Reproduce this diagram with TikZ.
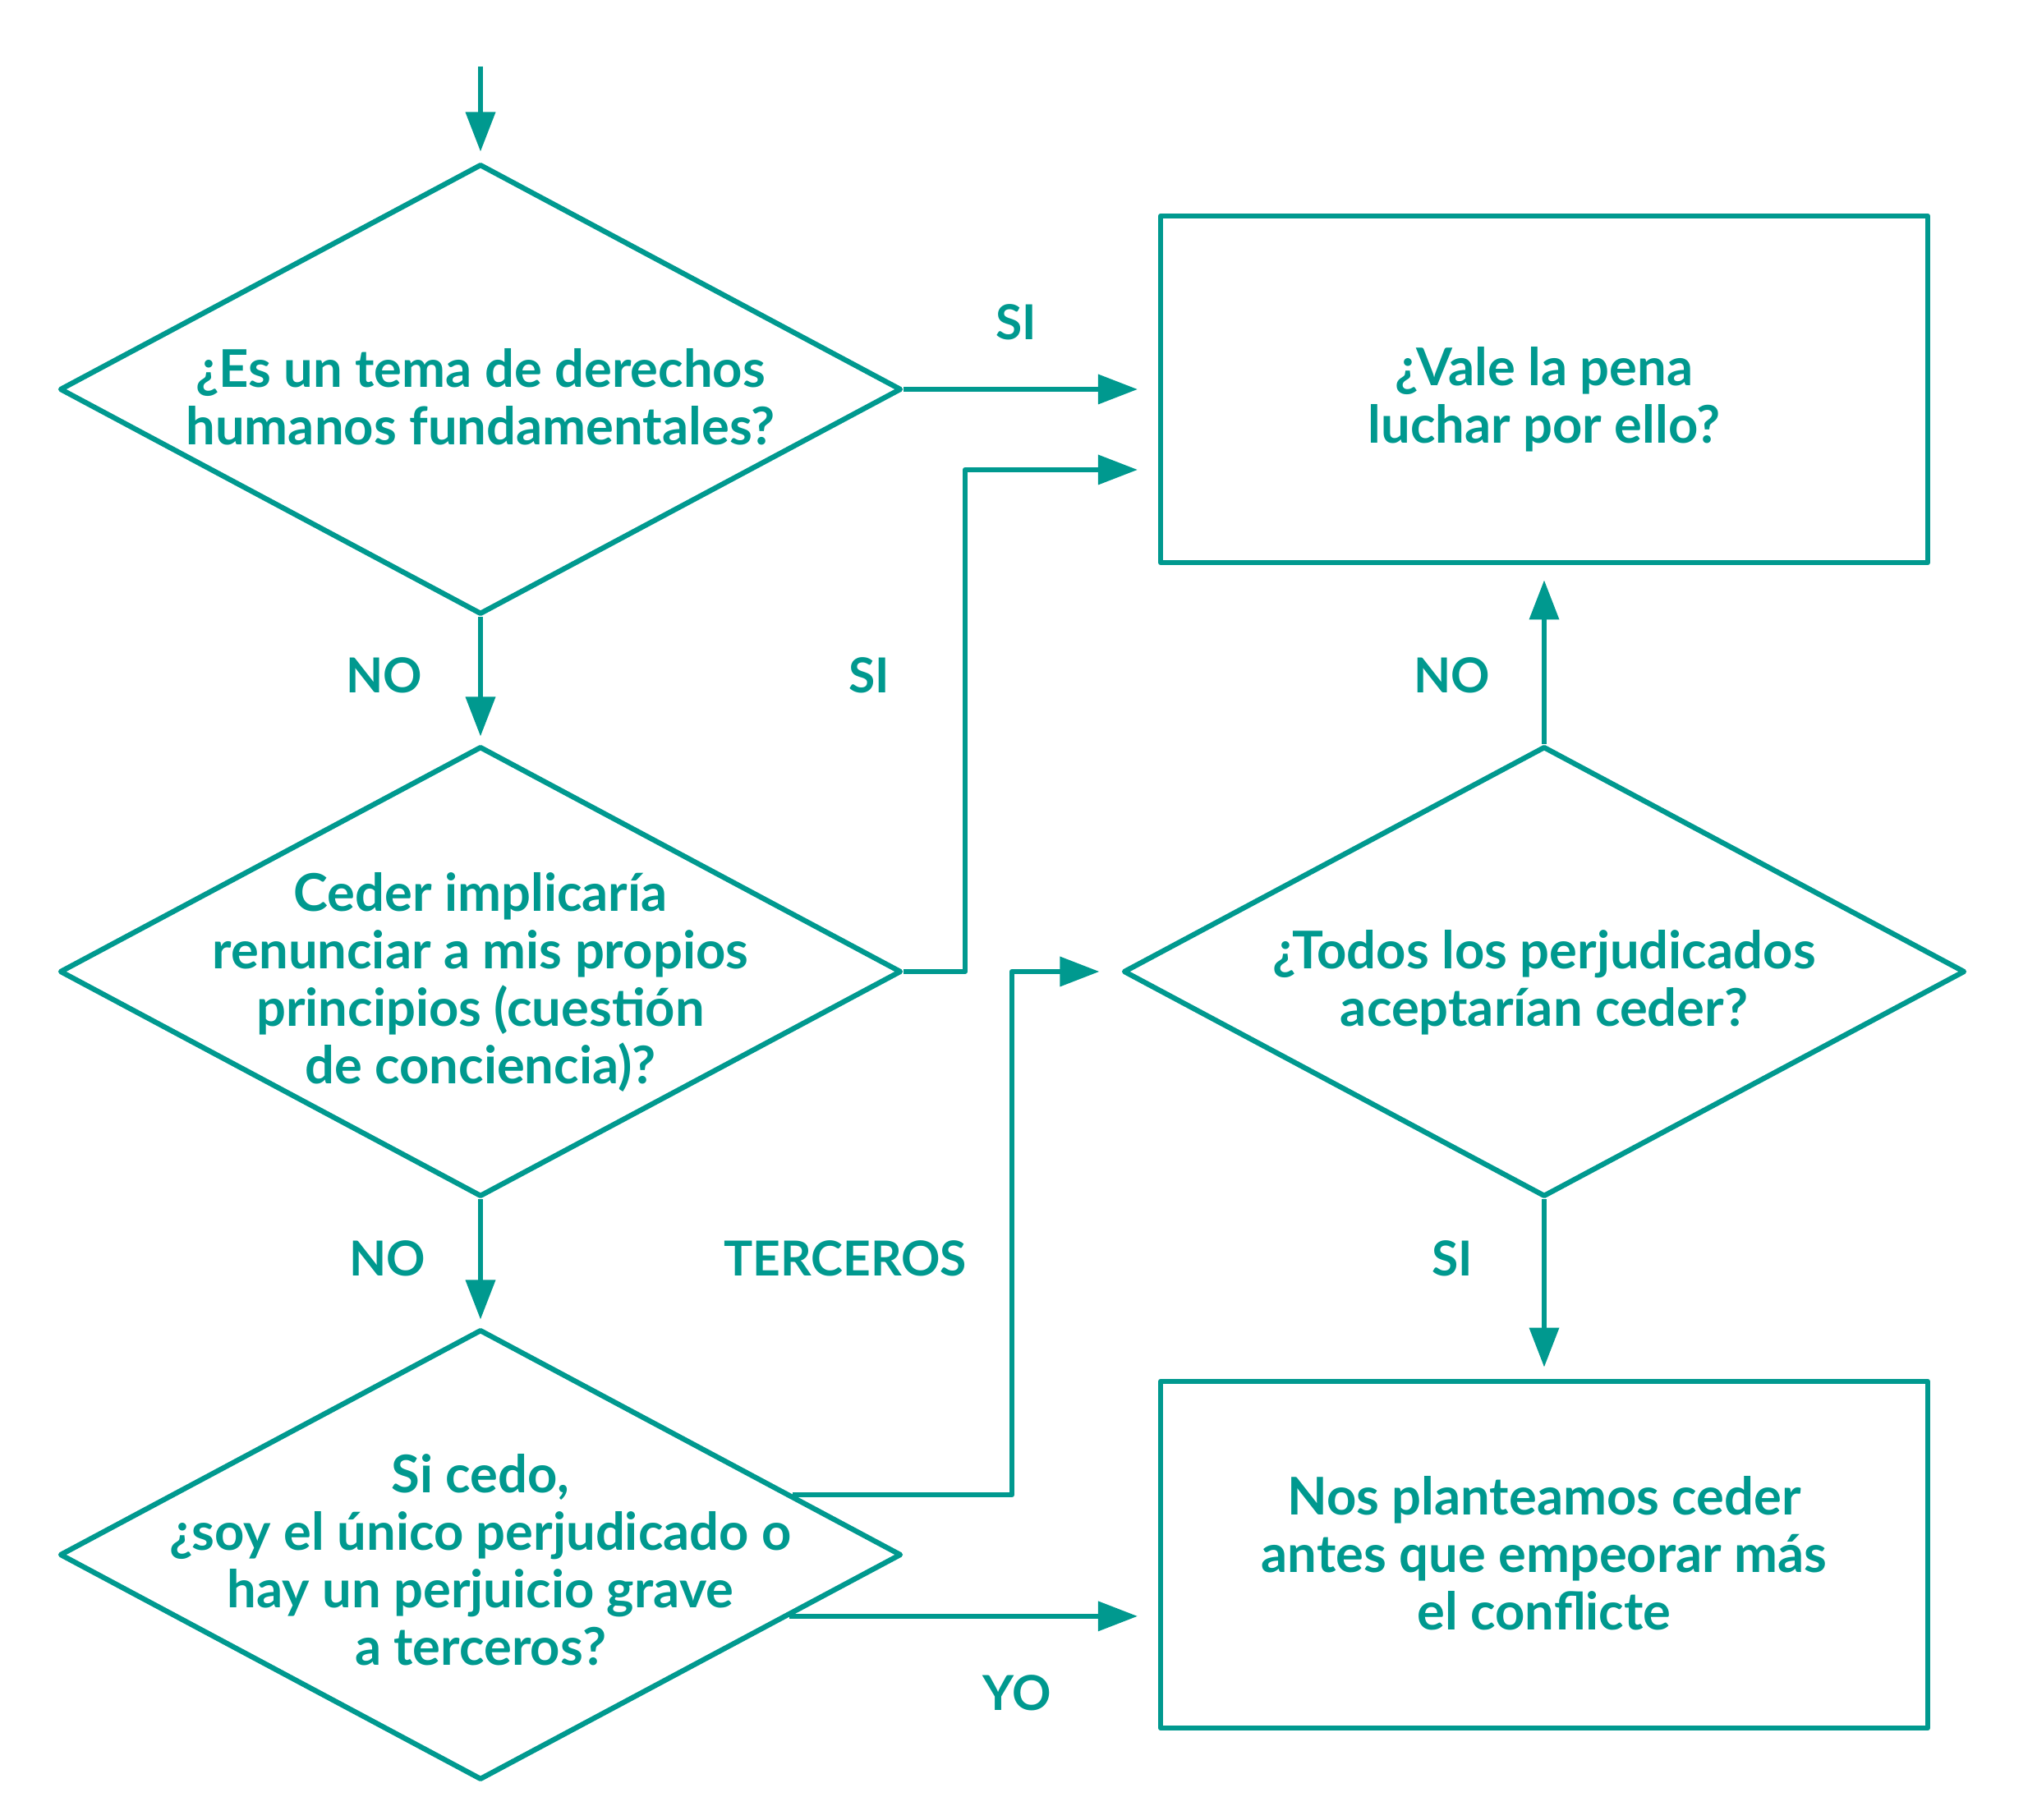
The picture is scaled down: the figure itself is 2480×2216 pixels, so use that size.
\documentclass[tikz,border=0pt]{standalone}
\usepackage{fontspec}
\setmainfont{Lato}
\usetikzlibrary{shapes.geometric,arrows.meta,calc}
\definecolor{teal1}{RGB}{0,153,143}
\begin{document}
\begin{tikzpicture}[x=0.01cm,y=-0.01cm,
  line width=1.8pt, line join=round,
  every node/.style={text=teal1,font=\fontsize{16.7}{19.9}\selectfont\bfseries,align=center},
  body/.style={font=\fontsize{18}{19.9}\selectfont\bfseries},
  dia/.style={draw=teal1,diamond,minimum width=10.24cm,minimum height=5.48cm,inner sep=0pt},
  box/.style={draw=teal1,rectangle,minimum width=9.33cm,minimum height=4.22cm,inner sep=0pt},
  arr/.style={draw=teal1,-{Triangle[length=13.7pt,width=10pt]}}]
\useasboundingbox (0,0) rectangle (2480,2216);

% decision and result nodes
\node[dia] (d1) at (585,474) {};
\node[body,yshift=-2.6pt] (t1) at (d1) {¿Es un tema de derechos\\humanos fundamentales?};
\node[dia] (d2) at (585,1183) {};
\node[body,yshift=-3.7pt] (t2) at (d2) {Ceder implicaría\\renunciar a mis propios\\principios (cuestión\\de conciencia)?};
\node[dia] (d3) at (585,1893) {};
\node[body,yshift=-1.7pt] (t3) at (d3) {Si cedo,\\¿soy el único perjudicado o\\hay un perjuicio grave\\a terceros?};
\node[dia] (d4) at (1880,1183) {};
\node[body,yshift=-3.7pt] (t4) at (d4) {¿Todos los perjudicados\\aceptarían ceder?};
\node[box] (b1) at (1880,474) {};
\node[body,yshift=-3.4pt] (t5) at (b1) {¿Vale la pena\\luchar por ello?};
\node[box] (b2) at (1880,1893) {};
\node[body,yshift=0.6pt] (t6) at (b2) {Nos planteamos ceder\\antes que empeorar más\\el conflicte};

% helper coordinates
\coordinate (start) at (585,81);
\coordinate (k1) at (1175,1183);
\coordinate (k2) at (1232,1183);
\coordinate (b1w) at ($(b1.west)+(0,98)$);
\coordinate (p3a) at ($(d3.east)!0.263!(d3.north)$);
\coordinate (p3b) at ($(d3.east)!0.27!(d3.south)$);

% connectors
\draw[arr,shorten >=0.12cm] (start) -- (d1.north);
\draw[arr,shorten >=0.25cm] (d1.east) -- (b1.west);
\draw[arr,shorten >=0.09cm] (d1.south) -- (d2.north);
\draw[arr,shorten >=0.25cm] (d2.east) -- (k1) |- (b1w);
\draw[arr,shorten >=0.09cm] (d2.south) -- (d3.north);
\draw[arr,shorten >=0.26cm] (p3a) -| (k2) -- (d4.west);
\draw[arr,shorten >=0.25cm] (p3b) -- (b2.west |- p3b);
\draw[arr,shorten >=0.18cm] (d4.north) -- (b1.south);
\draw[arr,shorten >=0.14cm] (d4.south) -- (b2.north);

% labels
\node (l1) at (1237,392) {SI};
\node (l2) at (468,822) {NO};
\node (l3) at (1058,822) {SI};
\node (l4) at (1768,822) {NO};
\node (l5) at (472,1532) {NO};
\node (l6) at (1029,1532) {TERCEROS};
\node (l7) at (1768,1532) {SI};
\node (l8) at (1238,2061) {YO};
\end{tikzpicture}
\end{document}
